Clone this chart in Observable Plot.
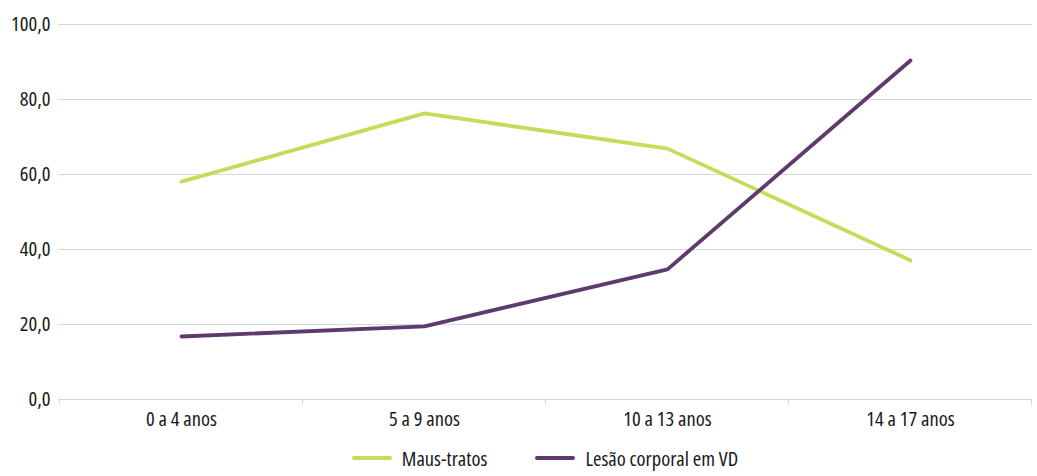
<!DOCTYPE html>
<html>
<head>
<meta charset="utf-8">
<script src="https://cdn.jsdelivr.net/npm/d3@7"></script>
<script src="https://cdn.jsdelivr.net/npm/@observablehq/plot@0.6"></script>
<style>
  html, body { margin: 0; padding: 0; background: #fff; }
  body { width: 1037px; font-family: "Open Sans", sans-serif; font-stretch: 75%; }
  svg text { font-stretch: 75%; }
  #legend { display: flex; justify-content: center; gap: 48px; font-size: 20.5px; color: #1a1a1a; height: 36px; align-items: center; padding-left: 53px; box-sizing: border-box; width: 1037px; }
  .item { display: flex; align-items: center; gap: 10px; }
  .sw { width: 40px; height: 4px; border-radius: 2px; }
</style>
</head>
<body>
<div id="chart"></div>
<div id="legend"></div>
<script>
const categories = ["0 a 4 anos", "5 a 9 anos", "10 a 13 anos", "14 a 17 anos"];
const seriesNames = ["Maus-tratos", "Lesão corporal em VD"];
const mausTratos = [58.1, 76.3, 66.9, 37.1];
const lesaoCorporal = [16.8, 19.5, 34.7, 90.4];
const yTicks = [0, 20, 40, 60, 80, 100];
const colors = ["#c5dc5a", "#5f3b6d"];

const data = [];
categories.forEach((c, i) => {
  data.push({cat: c, serie: seriesNames[0], value: mausTratos[i]});
  data.push({cat: c, serie: seriesNames[1], value: lesaoCorporal[i]});
});

const fmt = d => d.toFixed(1).replace(".", ",");

const chart = Plot.plot({
  width: 1037,
  height: 440,
  marginLeft: 58,
  marginRight: 5,
  marginTop: 24,
  marginBottom: 41,
  style: {fontFamily: "'Open Sans', sans-serif", fontSize: "20.5px", color: "#1a1a1a", background: "#fff"},
  x: {type: "point", domain: categories, padding: 0.5, label: null},
  y: {domain: [0, 100], label: null},
  color: {domain: seriesNames, range: colors},
  marks: [
    Plot.ruleY(yTicks, {stroke: "#d9d9d9", strokeWidth: 1}),
    Plot.axisY({ticks: yTicks, tickFormat: fmt, tickSize: 0, tickPadding: 8, fontSize: 20.5}),
    Plot.axisX({tickSize: 0, tickPadding: 12, fontSize: 20.5}),
    Plot.line(data, {x: "cat", y: "value", stroke: "serie", z: "serie", strokeWidth: 3.8, strokeLinecap: "round", strokeLinejoin: "round"})
  ]
});

// band boundary tick marks below the baseline, derived from the x scale
const xs = chart.scale("x");
const ys = chart.scale("y");
const step = (xs.apply(categories[1]) - xs.apply(categories[0]));
const bounds = categories.map(c => xs.apply(c) - step / 2).concat([xs.apply(categories[categories.length - 1]) + step / 2]);
const y0 = ys.apply(0);
const g = d3.select(chart).append("g").attr("stroke", "#d9d9d9");
bounds.forEach(b => {
  g.append("line").attr("x1", b).attr("x2", b).attr("y1", y0).attr("y2", y0 + 6);
});

document.getElementById("chart").appendChild(chart);

const legend = document.getElementById("legend");
seriesNames.forEach((s, i) => {
  const it = document.createElement("div");
  it.className = "item";
  const sw = document.createElement("span");
  sw.className = "sw";
  sw.style.background = colors[i];
  const t = document.createElement("span");
  t.textContent = s;
  it.appendChild(sw); it.appendChild(t);
  legend.appendChild(it);
});
</script>
</body>
</html>
